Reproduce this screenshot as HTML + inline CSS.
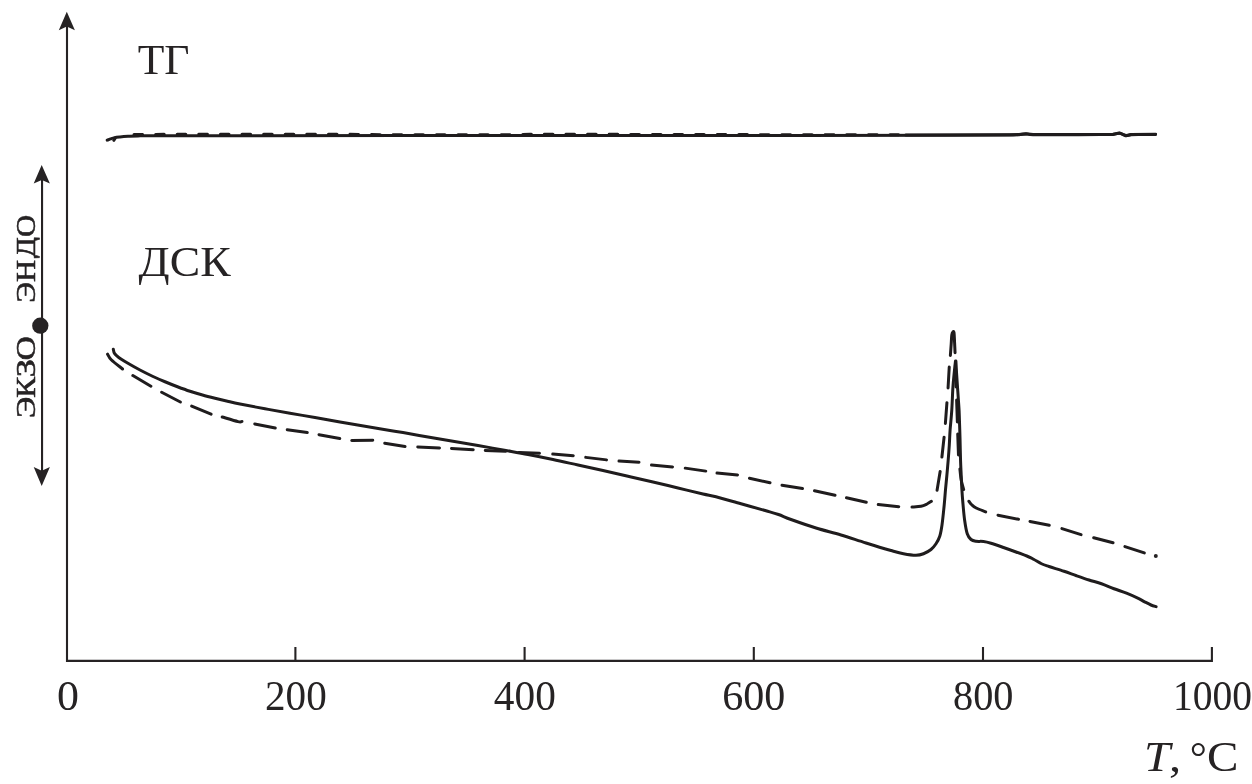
<!DOCTYPE html>
<html lang="ru">
<head>
<meta charset="utf-8">
<title>ТГ / ДСК</title>
<style>
  html, body { margin: 0; padding: 0; background: #ffffff; }
  body { width: 1252px; height: 784px; overflow: hidden; }
  svg { display: block; will-change: transform; transform: translateZ(0); }
  text { font-family: "Liberation Serif", "DejaVu Serif", serif; fill: #262324; }
  .ax { stroke: #262324; stroke-width: 2.1; fill: none; stroke-linecap: butt; }
  .cv { stroke: #1f1c1d; stroke-width: 3; fill: none; stroke-linecap: round; stroke-linejoin: round; }
  .ds { stroke: #1f1c1d; stroke-width: 2.6; fill: none; stroke-linecap: round; stroke-linejoin: round; stroke-dasharray: 20 12.6; }
  .tgd { stroke: #1f1c1d; stroke-width: 3; fill: none; stroke-linecap: round; stroke-dasharray: 8.6 13; }
  .tgm { stroke: #1f1c1d; stroke-width: 3; fill: none; stroke-linecap: round; stroke-linejoin: round; }
  .fill { fill: #262324; stroke: none; }
  .tick { font-size: 42.3px; text-anchor: middle; }
  .lbl { font-size: 42.9px; }
  .xl { font-size: 42.5px; }
  .rot { font-size: 28.3px; stroke: #262324; stroke-width: 0.55px; }
</style>
</head>
<body>
<svg width="1252" height="784" viewBox="0 0 1252 784">
  <defs><clipPath id="clipD"><rect x="0" y="230" width="39.7" height="40"/></clipPath></defs>
  <rect x="0" y="0" width="1252" height="784" fill="#ffffff"/>

  <!-- axes -->
  <g id="axes">
    <path class="ax" stroke-linejoin="miter" d="M67 24 L67 660.9 L1211.9 660.9 L1211.9 646.9"/>
    <path class="fill" d="M66.8 11.8 L74.9 30.2 L66.8 26.6 L58.8 30.2 Z"/>
    <path class="ax" d="M295.4 646.9 V660.9 M524.6 646.9 V660.9 M753.8 646.9 V660.9 M983 646.9 V660.9"/>
  </g>

  <!-- endo / exo arrow -->
  <g id="endoexo">
    <path class="ax" d="M42.05 178 L42.05 472"/>
    <path class="fill" d="M41.7 165.1 L49.9 183.4 L41.8 179.9 L33.7 183.4 Z"/>
    <path class="fill" d="M41.7 486.1 L49.9 467.1 L41.8 470.8 L33.7 467.1 Z"/>
    <circle class="fill" cx="40.3" cy="325.7" r="8.15"/>
    <g id="rottext" class="rot">
      <text id="rE1" transform="translate(35.1 302.83) rotate(-90) scale(1.113 1)">Э</text>
      <text id="rN"  transform="translate(35.1 282.07) rotate(-90) scale(1.087 1)">Н</text>
      <g clip-path="url(#clipD)"><text id="rD"  transform="translate(35.1 258.35) rotate(-90) scale(1.098 1)">Д</text></g>
      <text id="rO1" transform="translate(35.1 236.96) rotate(-90) scale(1.089 1)">О</text>
      <text id="rE2" transform="translate(35.1 418.08) rotate(-90) scale(1.137 1)">Э</text>
      <text id="rK"  transform="translate(35.1 397.83) rotate(-90) scale(1.107 1)">К</text>
      <text id="rZ"  transform="translate(35.1 377.53) rotate(-90) scale(1.311 1)">З</text>
      <text id="rO2" transform="translate(35.1 360.18) rotate(-90) scale(1.178 1)">О</text>
    </g>
  </g>

  <!-- labels -->
  <text class="lbl" transform="translate(137.7 73.8) scale(1.016 1)">ТГ</text>
  <text class="lbl" transform="translate(138.6 275.7) scale(1.064 1)">ДСК</text>

  <!-- tick labels -->
  <text class="tick" transform="translate(68.1 710) scale(1.039 1)">0</text>
  <text class="tick" transform="translate(295.85 710) scale(0.973 1)">200</text>
  <text class="tick" transform="translate(524.85 710) scale(0.977 1)">400</text>
  <text class="tick" transform="translate(753.8 710) scale(0.995 1)">600</text>
  <text class="tick" transform="translate(983.25 710) scale(0.953 1)">800</text>
  <text class="tick" transform="translate(1212.6 710) scale(0.935 1)">1000</text>
  <g id="xlabel" class="xl">
    <text id="gT" font-style="italic" transform="translate(1143.95 770.7) scale(1.110 1)">T</text>
    <text id="gComma" transform="translate(1169.00 770.7) scale(1.150 1)">,</text>
    <text id="gDeg" transform="translate(1189.85 770.7) scale(1.005 1)">°</text>
    <text id="gC" transform="translate(1207.10 770.7) scale(1.110 1)">C</text>
  </g>

  <!-- curves -->
  <g id="curves">
    <path class="cv" d="M107.20 140.20 C107.75 139.98 109.28 139.33 110.50 138.90 C111.72 138.47 112.92 137.93 114.50 137.60 C116.08 137.27 117.75 137.12 120.00 136.90 C122.25 136.68 125.00 136.47 128.00 136.30 C131.00 136.13 132.67 135.99 138.00 135.90 C143.33 135.81 141.33 135.78 160.00 135.75 C178.67 135.72 210.00 135.72 250.00 135.70 C290.00 135.67 341.67 135.63 400.00 135.60 C458.33 135.57 533.33 135.53 600.00 135.50 C666.67 135.47 741.67 135.45 800.00 135.40 C858.33 135.35 915.00 135.27 950.00 135.20 C985.00 135.13 998.50 135.07 1010.00 135.00 C1021.50 134.93 1016.33 134.98 1019.00 134.80 C1021.67 134.62 1023.67 133.90 1026.00 133.90 C1028.33 133.90 1027.33 134.65 1033.00 134.80 C1038.67 134.95 1048.83 134.83 1060.00 134.80 C1071.17 134.77 1091.17 134.65 1100.00 134.60 C1108.83 134.55 1109.78 134.73 1113.00 134.50 C1116.22 134.27 1117.63 133.18 1119.30 133.20 C1120.97 133.22 1121.80 134.17 1123.00 134.60 C1124.20 135.03 1125.17 135.77 1126.50 135.80 C1127.83 135.83 1128.75 135.02 1131.00 134.80 C1133.25 134.58 1135.90 134.57 1140.00 134.50 C1144.10 134.43 1153.00 134.42 1155.60 134.40"/>
    <path class="cv" d="M113.8 140.3 L115.2 138.2"/>
    <path class="tgd" d="M134.00 134.40 L250.00 134.30 L350.00 134.35 L395.00 134.85 L500.00 134.85 L530.00 134.30 L600.00 134.25 L640.00 134.50 L720.00 134.55 L800.00 134.70 L906.00 134.85"/>
    <path class="tgm" d="M906 135.0 L1010 134.75 L1019 134.55 L1026 133.65 L1033 134.55 L1113 134.25 L1119.3 132.95 L1123 134.35 L1126.5 135.55 L1131 134.55 L1155.6 134.15"/>
    <path class="cv" d="M113.30 349.20 C113.50 349.90 113.59 352.02 114.50 353.40 C115.41 354.78 116.58 355.90 118.75 357.50 C120.92 359.10 123.96 360.92 127.50 363.00 C131.04 365.08 135.83 367.79 140.00 370.00 C144.17 372.21 148.33 374.29 152.50 376.25 C156.67 378.21 160.83 380.00 165.00 381.75 C169.17 383.50 173.33 385.17 177.50 386.75 C181.67 388.33 185.83 389.88 190.00 391.25 C194.17 392.62 198.33 393.83 202.50 395.00 C206.67 396.17 210.83 397.21 215.00 398.25 C219.17 399.29 223.33 400.29 227.50 401.25 C231.67 402.21 233.75 402.75 240.00 404.00 C246.25 405.25 256.67 407.21 265.00 408.75 C273.33 410.29 281.67 411.79 290.00 413.25 C298.33 414.71 306.67 416.04 315.00 417.50 C323.33 418.96 331.67 420.54 340.00 422.00 C348.33 423.46 356.67 424.83 365.00 426.25 C373.33 427.67 383.67 429.46 390.00 430.50 C396.33 431.54 396.67 431.42 403.00 432.50 C409.33 433.58 419.67 435.54 428.00 437.00 C436.33 438.46 444.67 439.83 453.00 441.25 C461.33 442.67 469.67 444.04 478.00 445.50 C486.33 446.96 494.67 448.50 503.00 450.00 C511.33 451.50 519.67 452.92 528.00 454.50 C536.33 456.08 544.67 457.75 553.00 459.50 C561.33 461.25 569.67 463.17 578.00 465.00 C586.33 466.83 594.67 468.62 603.00 470.50 C611.33 472.38 619.67 474.33 628.00 476.25 C636.33 478.17 644.67 480.04 653.00 482.00 C661.33 483.96 669.67 486.00 678.00 488.00 C686.33 490.00 696.67 492.54 703.00 494.00 C709.33 495.46 709.67 495.12 716.00 496.75 C722.33 498.38 732.67 501.42 741.00 503.75 C749.33 506.08 759.75 508.96 766.00 510.75 C772.25 512.54 774.33 513.04 778.50 514.50 C782.67 515.96 784.75 517.25 791.00 519.50 C797.25 521.75 807.67 525.42 816.00 528.00 C824.33 530.58 832.67 532.50 841.00 535.00 C849.33 537.50 857.67 540.42 866.00 543.00 C874.33 545.58 884.75 548.71 891.00 550.50 C897.25 552.29 899.33 552.96 903.50 553.75 C907.67 554.54 912.67 555.25 916.00 555.25 C919.33 555.25 921.00 554.71 923.50 553.75 C926.00 552.79 928.92 551.17 931.00 549.50 C933.08 547.83 934.54 545.96 936.00 543.75 C937.46 541.54 938.75 539.38 939.75 536.25 C940.75 533.12 941.26 530.21 942.00 525.00 C942.74 519.79 943.62 510.88 944.20 505.00 C944.78 499.12 945.05 494.70 945.50 489.70 C945.95 484.70 946.46 479.85 946.90 475.00 C947.34 470.15 947.75 465.60 948.15 460.60 C948.55 455.60 948.97 450.10 949.30 445.00 C949.62 439.90 949.69 435.73 950.10 430.00 C950.51 424.27 951.28 417.65 951.75 410.60 C952.22 403.55 952.48 394.13 952.90 387.70 C953.32 381.27 953.87 376.45 954.30 372.00 C954.73 367.55 955.30 362.83 955.50 361.00 L955.90 361.00 C956.00 362.83 956.27 368.17 956.50 372.00 C956.73 375.83 956.98 379.33 957.30 384.00 C957.62 388.67 958.10 395.57 958.40 400.00 C958.70 404.43 958.90 406.43 959.10 410.60 C959.30 414.77 959.45 420.50 959.60 425.00 C959.75 429.50 959.84 431.67 960.00 437.60 C960.16 443.53 960.35 454.37 960.55 460.60 C960.75 466.83 960.98 470.15 961.20 475.00 C961.43 479.85 961.63 485.20 961.90 489.70 C962.17 494.20 962.35 496.95 962.80 502.00 C963.25 507.05 963.86 514.71 964.60 520.00 C965.34 525.29 966.18 530.50 967.25 533.75 C968.32 537.00 969.54 538.25 971.00 539.50 C972.46 540.75 973.92 540.92 976.00 541.25 C978.08 541.58 981.00 541.17 983.50 541.50 C986.00 541.83 987.67 542.25 991.00 543.25 C994.33 544.25 999.33 546.04 1003.50 547.50 C1007.67 548.96 1011.75 550.42 1016.00 552.00 C1020.25 553.58 1026.00 555.75 1029.00 557.00 C1032.00 558.25 1031.92 558.38 1034.00 559.50 C1036.08 560.62 1039.00 562.58 1041.50 563.75 C1044.00 564.92 1045.25 565.25 1049.00 566.50 C1052.75 567.75 1059.42 569.71 1064.00 571.25 C1068.58 572.79 1072.33 574.29 1076.50 575.75 C1080.67 577.21 1084.83 578.67 1089.00 580.00 C1093.17 581.33 1097.33 582.29 1101.50 583.75 C1105.67 585.21 1109.83 587.17 1114.00 588.75 C1118.17 590.33 1122.45 591.59 1126.50 593.20 C1130.55 594.81 1135.28 596.97 1138.30 598.40 C1141.32 599.83 1142.48 600.70 1144.60 601.80 C1146.72 602.90 1149.08 604.18 1151.00 605.00 C1152.92 605.82 1155.25 606.42 1156.10 606.70"/>
    <path class="cv" d="M107.55 354.13 C108.17 355.06 108.75 357.23 111.25 359.70 C113.75 362.17 120.65 367.42 122.53 368.97 M132.86 375.51 L150.89 386.24 M161.64 392.21 L180.36 402.04 M191.67 406.13 L211.08 414.12 M222.21 417.03 C224.84 417.79 234.70 420.85 238.00 421.60 C241.30 422.35 241.33 421.53 242.00 421.52 M254.73 423.95 L275.27 428.05 M287.24 429.65 L307.26 432.60 M318.98 434.68 L339.77 438.57 M351.75 440.49 L372.75 440.26 M384.74 443.16 L405.01 446.44 M417.75 447.04 L439.50 447.96 M451.50 448.55 L473.25 449.70 M485.25 450.53 L505.75 451.22 M519.00 452.53 L539.50 453.22 M552.75 454.08 L573.25 455.67 M585.74 457.37 L606.51 459.88 M619.00 461.06 L639.00 462.19 M651.50 465.09 L672.50 466.91 M685.24 468.14 L705.76 471.11 M717.00 473.09 L737.50 474.91 M749.48 478.22 L770.02 482.78 M781.99 485.16 L802.51 488.59 M814.48 490.72 L835.02 495.28 M846.47 497.72 L866.28 502.28 M878.25 504.60 L898.75 506.65 M912.00 507.02 C913.50 506.90 918.50 506.80 921.00 506.30 C923.50 505.80 925.28 504.83 927.00 504.00 C928.72 503.17 930.62 501.77 931.35 501.32 M937.06 490.21 L940.14 471.49 M941.91 457.01 L944.09 437.19 M945.37 423.50 L946.93 402.70 M948.06 388.00 L949.24 367.00 M950.37 355.40 C950.51 353.50 950.96 347.42 951.20 344.00 C951.44 340.58 951.52 336.90 951.80 334.90 C952.08 332.90 952.53 332.38 952.90 332.00 C953.27 331.62 953.72 330.77 954.00 332.60 C954.28 334.43 954.42 339.63 954.60 343.00 C954.78 346.37 954.98 351.17 955.05 352.80 M955.43 365.00 L956.07 387.00 M956.63 400.00 L957.37 422.00 M957.73 434.00 L958.47 455.00 M959.92 468.99 C960.13 470.83 960.58 476.58 961.20 480.00 C961.82 483.42 963.24 487.94 963.65 489.53 M968.92 501.28 C969.35 501.82 970.29 503.38 971.50 504.50 C972.71 505.62 973.84 506.78 976.20 508.00 C978.56 509.22 984.09 511.19 985.67 511.83 M997.98 515.20 L1018.52 519.30 M1029.98 521.45 L1049.27 525.30 M1061.95 528.56 L1081.05 534.69 M1093.72 537.75 L1113.03 542.75 M1124.95 546.56 L1144.30 552.94"/>
    <circle class="fill" cx="1155.8" cy="555.9" r="2.0"/>
  </g>
</svg>
</body>
</html>
